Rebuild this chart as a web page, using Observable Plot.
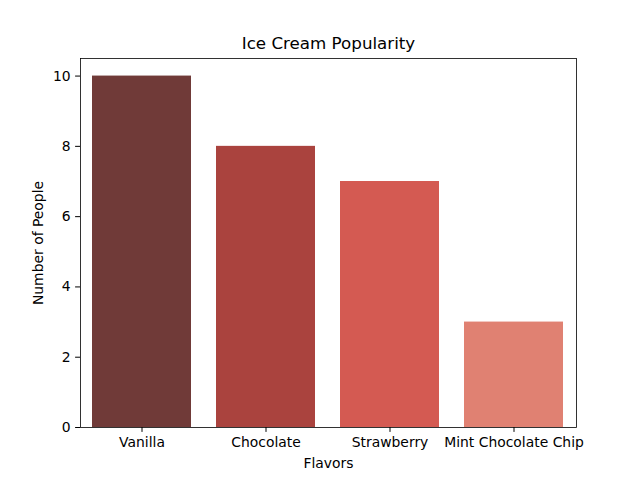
<!DOCTYPE html>
<html>
<head>
<meta charset="utf-8">
<script src="https://cdn.jsdelivr.net/npm/d3@7"></script>
<script src="https://cdn.jsdelivr.net/npm/@observablehq/plot@0.6"></script>
<style>
  html, body { margin: 0; padding: 0; background: #fff; }
</style>
</head>
<body>
<div id="chart"></div>
<script>
const flavors = ["Vanilla", "Chocolate", "Strawberry", "Mint Chocolate Chip"];
const people = [10, 8, 7, 3];
const barColors = ["#703a38", "#aa433e", "#d45a52", "#e08172"];
const yTicks = [0, 2, 4, 6, 8, 10];

const data = flavors.map((f, i) => ({flavor: f, count: people[i]}));

const chart = Plot.plot({
  width: 640,
  height: 480,
  marginLeft: 80,
  marginRight: 64,
  marginTop: 58,
  marginBottom: 53,
  style: {fontFamily: "DejaVu Sans", fontSize: "13.9px", color: "#000", background: "#fff"},
  x: {domain: flavors, paddingInner: 0.2, paddingOuter: 0.1, label: null},
  y: {domain: [0, 10.5], label: null},
  color: {domain: flavors, range: barColors},
  marks: [
    Plot.barY(data, {x: "flavor", y: "count", fill: "flavor"}),
    Plot.axisX({tickSize: 4.9, tickPadding: 5, label: null, fontSize: 13.9}),
    Plot.axisY({ticks: yTicks, tickSize: 4.9, tickPadding: 5, label: null, tickFormat: d => d, fontSize: 13.9}),
    Plot.frame({stroke: "#000", strokeWidth: 0.8}),
    Plot.text(["Ice Cream Popularity"], {frameAnchor: "top", dy: -15, lineAnchor: "middle", fontSize: 16.7}),
    Plot.text(["Flavors"], {frameAnchor: "bottom", dy: 36, lineAnchor: "middle", fontSize: 13.9}),
    Plot.text(["Number of People"], {frameAnchor: "left", dx: -42, rotate: -90, textAnchor: "middle", lineAnchor: "middle", fontSize: 13.9})
  ]
});
document.getElementById("chart").appendChild(chart);
</script>
</body>
</html>
